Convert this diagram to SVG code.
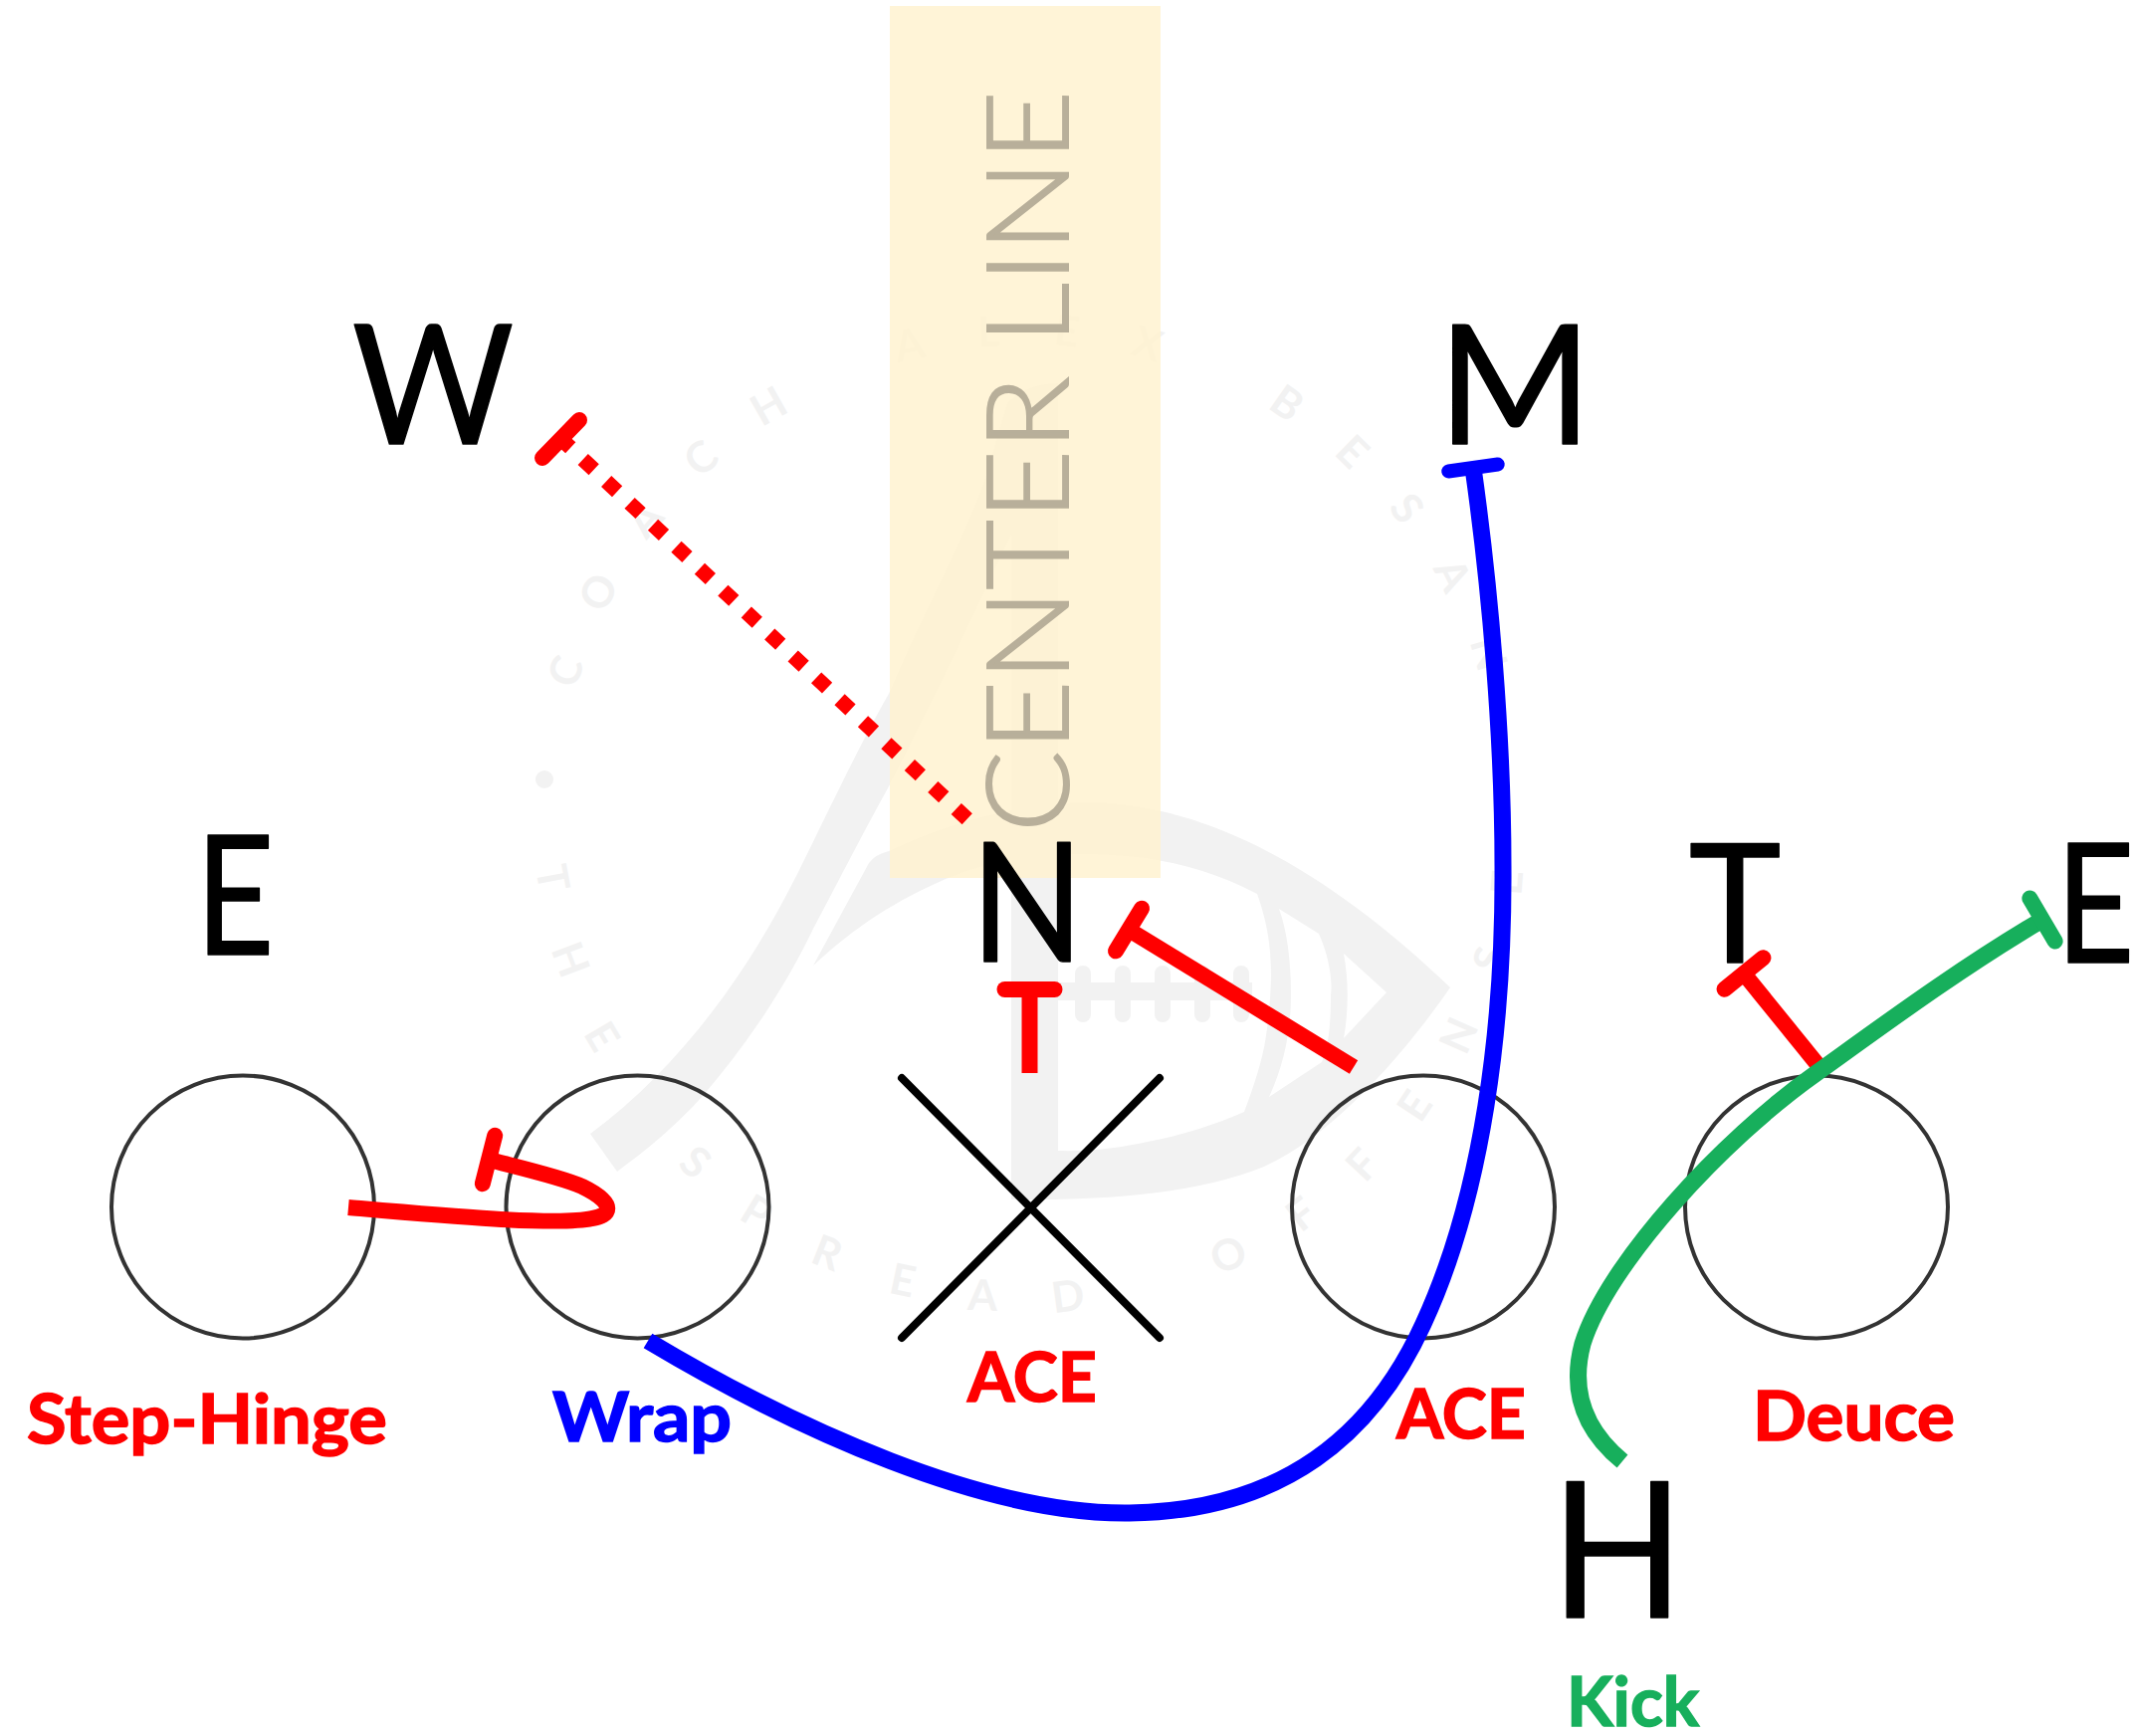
<svg xmlns="http://www.w3.org/2000/svg" width="2144" height="1744" viewBox="0 0 2144 1744">
<style>
.big{font-family:Lato,"Liberation Sans",sans-serif;font-size:167px;fill:#000;stroke:#000;stroke-width:1.5;stroke-linejoin:round;text-anchor:middle}
.lab{font-family:Lato,"Liberation Sans",sans-serif;font-weight:700;font-size:68px;stroke-width:1.5}
.wm{font-family:Lato,"Liberation Sans",sans-serif;font-size:43px;font-weight:700;fill:#f2f2f2}
.pl{fill:none;stroke-linecap:butt;stroke-width:16}
.r{stroke:#f00}.b{stroke:#00f}.g{stroke:#17af5c}
.seat{fill:none;stroke:#333;stroke-width:4}
</style>
<defs>
<marker id="tr" markerUnits="userSpaceOnUse" markerWidth="80" markerHeight="80" refX="40" refY="40" orient="auto" overflow="visible"><path d="M40,15V65" stroke="#f00" stroke-width="16" stroke-linecap="round" fill="none"/></marker>
<marker id="tb" markerUnits="userSpaceOnUse" markerWidth="80" markerHeight="80" refX="40" refY="40" orient="auto" overflow="visible"><path d="M40,15V65" stroke="#00f" stroke-width="14" stroke-linecap="round" fill="none"/></marker>
<marker id="tg" markerUnits="userSpaceOnUse" markerWidth="80" markerHeight="80" refX="40" refY="40" orient="auto" overflow="visible"><path d="M40,15V65" stroke="#17af5c" stroke-width="16" stroke-linecap="round" fill="none"/></marker>
<path id="arcTop" d="M562,820A473,473 0 0 1 1508,820"/>
<path id="arcBot" d="M537,820A498,498 0 0 0 1533,820"/>
</defs>
<rect width="2144" height="1744" fill="#fff"/>
<g id="watermark">
<path fill="#f2f2f2" d="M593,1139C680,1075 750,980 800,880C830,820 865,745 893,697C925,620 965,550 990,480C998,455 1005,425 1012,405C1025,390 1045,385 1063,385V1205H1016V537C975,625 930,720 893,790C860,850 840,890 817,933C790,990 750,1050 706,1101C680,1130 650,1155 620,1177Z"/>
<path fill="#f2f2f2" fill-rule="evenodd" d="M817,970L873,867Q880,858 893,855C960,822 1040,805 1100,806C1220,810 1340,880 1457,992C1410,1060 1340,1140 1270,1172C1200,1200 1110,1206 1016,1205V1156H1063C1100,1157 1130,1152 1153,1147C1190,1140 1220,1130 1250,1117C1262,1085 1270,1060 1273,1033C1279,985 1280,945 1263,898C1225,878 1190,868 1150,862C1080,855 1020,855 950,883C900,905 860,930 817,970ZM1285,913L1325,938C1335,960 1339,985 1337,1000C1337,1030 1335,1050 1328,1067L1275,1102C1290,1070 1297,1035 1297,1000C1297,965 1293,935 1285,913ZM1350,958L1393,997L1350,1043C1355,1015 1355,985 1350,958Z"/>
<g fill="#f2f2f2">
<rect x="1060" y="987" width="198" height="18"/>
<rect x="1080" y="970" width="16" height="57" rx="8"/><rect x="1120" y="970" width="16" height="57" rx="8"/><rect x="1160" y="970" width="16" height="57" rx="8"/><rect x="1200" y="970" width="16" height="57" rx="8"/><rect x="1239" y="970" width="16" height="57" rx="8"/>
<circle cx="547" cy="783" r="9"/>
</g>
<text class="wm" letter-spacing="52.5" word-spacing="4"><textPath href="#arcTop" startOffset="128">COACH ALEX BESAN</textPath></text>
<text class="wm" letter-spacing="57" word-spacing="14"><textPath href="#arcBot" startOffset="52">THE SPREAD OFFENSE</textPath></text>
</g>
<g id="center-line">
<rect x="894" y="6" width="272" height="876" fill="#fff2d0" fill-opacity=".85"/>
<text transform="translate(1073,836) rotate(-90)" font-family="Lato,'Liberation Sans',sans-serif" font-weight="300" font-size="115" fill="#b8af9a" stroke="#b8af9a" stroke-width="2" textLength="745" lengthAdjust="spacingAndGlyphs">CENTER LINE</text>
</g>
<g id="seat-1"><circle class="seat" cx="244" cy="1212.5" r="132"/></g>
<g id="seat-2"><circle class="seat" cx="640.5" cy="1212.5" r="132"/></g>
<g id="seat-4"><circle class="seat" cx="1430" cy="1212.5" r="132"/></g>
<g id="seat-5"><circle class="seat" cx="1825" cy="1212.5" r="132"/></g>
<g id="center-x"><path d="M906,1083L1165,1344M1165,1083L906,1344" fill="none" stroke="#000" stroke-width="8" stroke-linecap="round"/></g>
<g id="player-W"><text class="big" transform="translate(435,446) scale(.94,1)">W</text></g>
<g id="player-M"><text class="big" transform="translate(1522,446)">M</text></g>
<g id="player-E-left"><text class="big" transform="translate(236,959) scale(.82,1)">E</text></g>
<g id="player-N"><text class="big" transform="translate(1032,966) scale(.89,1)">N</text></g>
<g id="player-T"><text class="big" transform="translate(1743,967) scale(.94,1)">T</text></g>
<g id="player-E-right"><text class="big" transform="translate(2105,967) scale(.82,1)">E</text></g>
<g id="player-H"><text class="big" transform="translate(1625,1625) scale(.92,1)" style="font-size:190px">H</text></g>
<g id="connectors">
<path class="pl r" d="M971.7,822.7L567.2,444.2" style="stroke-width:15;stroke-dasharray:15 17.1"/>
<path d="M545,460L582,422" fill="none" stroke="#f00" stroke-width="16" stroke-linecap="round"/>
<path class="pl r" d="M350,1213C430,1220 560,1232 595,1224C612,1222 622,1210 585,1192C565,1183 530,1175 491,1165" marker-end="url(#tr)"/>
<path class="pl r" d="M1034.5,1078V994" marker-end="url(#tr)"/>
<path class="pl r" d="M1360,1072L1134,934" marker-end="url(#tr)"/>
<path class="pl r" d="M1833,1078L1752,978" marker-end="url(#tr)"/>
<path class="pl b" style="stroke-width:17" d="M651,1347C800,1436 990,1522 1135,1520C1290,1518 1380,1440 1430,1330C1490,1200 1511,1030 1510,870C1510,740 1497,590 1480,470" marker-end="url(#tb)"/>
<path class="pl g" style="stroke-width:17" d="M1630,1468C1590,1435 1578,1395 1590,1350C1615,1270 1730,1145 1825,1078C1885,1035 1970,972 2052,924" marker-end="url(#tg)"/>
</g>
<g id="labels">
<text class="lab" x="27" y="1450" fill="#f00" stroke="#f00" textLength="362" lengthAdjust="spacingAndGlyphs">Step-Hinge</text>
<text class="lab" x="555" y="1448" fill="#00f" stroke="#00f" textLength="180" lengthAdjust="spacingAndGlyphs">Wrap</text>
<text class="lab" x="972" y="1408" fill="#f00" stroke="#f00">ACE</text>
<text class="lab" x="1403" y="1445" fill="#f00" stroke="#f00">ACE</text>
<text class="lab" x="1761" y="1447" fill="#f00" stroke="#f00" textLength="203" lengthAdjust="spacingAndGlyphs">Deuce</text>
<text class="lab" x="1574" y="1734" fill="#17af5c" stroke="#17af5c">Kick</text>
</g>
</svg>
